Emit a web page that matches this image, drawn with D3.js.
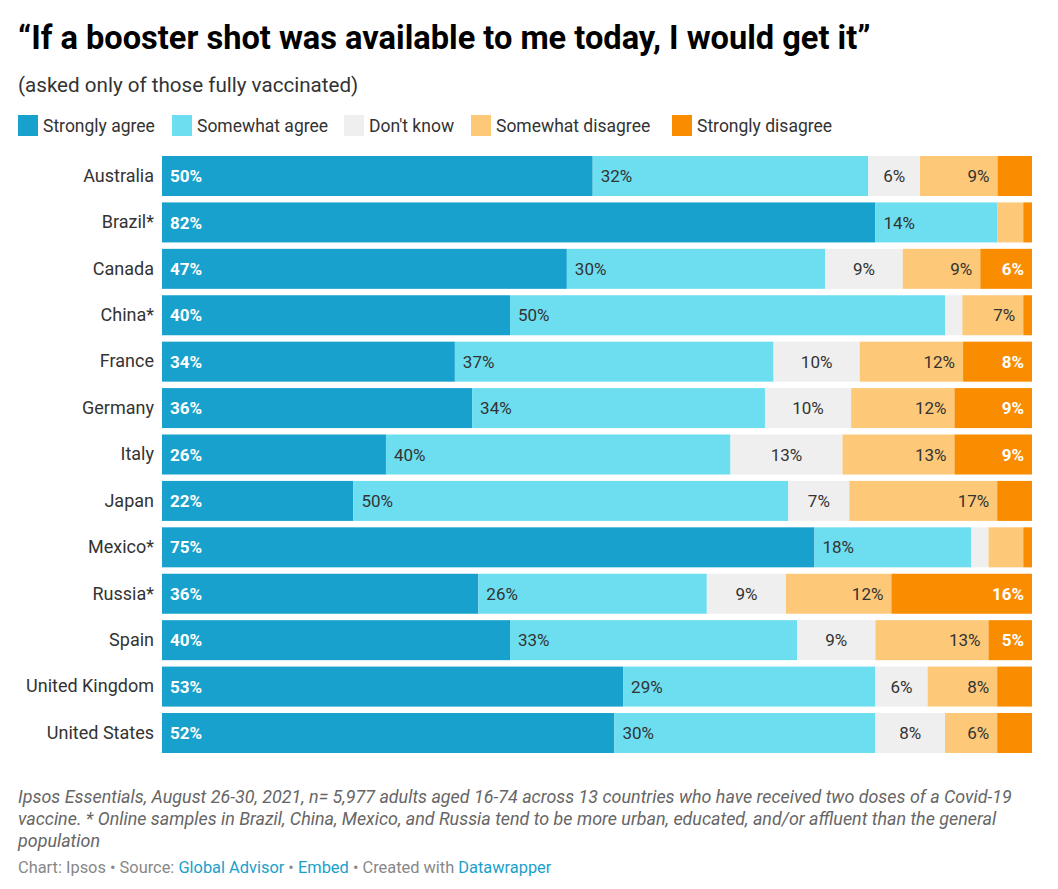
<!DOCTYPE html>
<html>
<head>
<meta charset="utf-8">
<script src="https://cdn.jsdelivr.net/npm/d3@7"></script>
<style>
  body { margin: 0; background: #fff; font-family: Roboto, "Noto Sans", sans-serif; }
  svg { display: block; }
</style>
</head>
<body>
<svg id="chart" width="1058" height="889"></svg>
<script>
const countries = ["Australia","Brazil*","Canada","China*","France","Germany","Italy","Japan","Mexico*","Russia*","Spain","United Kingdom","United States"];
const seriesNames = ["Strongly agree","Somewhat agree","Don't know","Somewhat disagree","Strongly disagree"];
const stronglyAgree    = [50,82,47,40,34,36,26,22,75,36,40,53,52];
const somewhatAgree    = [32,14,30,50,37,34,40,50,18,26,33,29,30];
const dontKnow         = [6,0,9,2,10,10,13,7,2,9,9,6,8];
const somewhatDisagree = [9,3,9,7,12,12,13,17,4,12,13,8,6];
const stronglyDisagree = [4,1,6,1,8,9,9,4,1,16,5,4,4];
const colors = ["#18a1cd","#6ddef0","#efefef","#fdc979","#fa8c00"];
const labelColors = ["#ffffff","#333333","#333333","#333333","#ffffff"];
const labelWeights = ["bold","normal","normal","normal","bold"];

const series = [stronglyAgree, somewhatAgree, dontKnow, somewhatDisagree, stronglyDisagree];
const svg = d3.select("#chart");
const font = "Roboto, 'Noto Sans', sans-serif";

// Title & subtitle
svg.append("text").attr("x", 18).attr("y", 49)
  .attr("font-family", font).attr("font-weight", "bold").attr("font-size", 32.6).attr("fill", "#000")
  .text("\u201CIf a booster shot was available to me today, I would get it\u201D");
svg.append("text").attr("x", 18).attr("y", 92)
  .attr("font-family", font).attr("font-size", 20.6).attr("fill", "#333")
  .text("(asked only of those fully vaccinated)");

// Legend
const legendX = [18, 172, 344, 471, 672];
const lg = svg.append("g");
seriesNames.forEach((name, i) => {
  const g = lg.append("g").attr("transform", `translate(${legendX[i]},115)`);
  g.append("rect").attr("width", 20).attr("height", 21).attr("fill", colors[i]);
  g.append("text").attr("x", 25).attr("y", 16.5)
    .attr("font-family", font).attr("font-size", 17.5).attr("fill", "#333").text(name);
});

// Data rows
const rows = countries.map((c, ci) => {
  const vals = series.map(s => s[ci]);
  const total = d3.sum(vals);
  let acc = 0;
  const segs = vals.map((v, si) => {
    const seg = { country: c, si, value: v, x0: acc / total, x1: (acc + v) / total };
    acc += v;
    return seg;
  });
  return { country: c, segs };
});

const x = d3.scaleLinear().domain([0, 1]).range([162, 1032]);
const y = d3.scaleBand().domain(countries).range([156, 753]).paddingInner(0.138).paddingOuter(0);

// Country axis labels
const yAxis = d3.axisLeft(y).tickSize(0).tickPadding(8);
const ya = svg.append("g").attr("transform", "translate(162,0)").call(yAxis);
ya.select(".domain").remove();
ya.selectAll("text").attr("font-family", font).attr("font-size", 18).attr("fill", "#333");

const rowG = svg.selectAll("g.row").data(rows).enter().append("g").attr("class", "row")
  .attr("transform", d => `translate(0,${y(d.country)})`);

rowG.selectAll("rect").data(d => d.segs.filter(s => s.value > 0)).enter().append("rect")
  .attr("x", d => x(d.x0)).attr("width", d => x(d.x1) - x(d.x0))
  .attr("y", 0).attr("height", y.bandwidth())
  .attr("fill", d => colors[d.si]);

rowG.selectAll("text.lbl").data(d => d.segs.filter(s => s.value >= 5)).enter().append("text")
  .attr("class", "lbl")
  .attr("x", d => d.si < 2 ? x(d.x0) + 8 : (d.si === 2 ? (x(d.x0) + x(d.x1)) / 2 : x(d.x1) - 8))
  .attr("text-anchor", d => d.si < 2 ? "start" : (d.si === 2 ? "middle" : "end"))
  .attr("y", y.bandwidth() / 2).attr("dy", "0.36em")
  .attr("font-family", font).attr("font-size", 17)
  .attr("font-weight", d => labelWeights[d.si])
  .attr("fill", d => labelColors[d.si])
  .text(d => d.value + "%");

// Notes
const notes = [
  "Ipsos Essentials, August 26-30, 2021, n= 5,977 adults aged 16-74 across 13 countries who have received two doses of a Covid-19",
  "vaccine. * Online samples in Brazil, China, Mexico, and Russia tend to be more urban, educated, and/or affluent than the general",
  "population"
];
notes.forEach((t, i) => {
  svg.append("text").attr("x", 18).attr("y", 803 + i * 22)
    .attr("font-family", font).attr("font-style", "italic").attr("font-size", 17.9).attr("fill", "#666").text(t);
});

const src = svg.append("text").attr("x", 18).attr("y", 873)
  .attr("font-family", font).attr("font-size", 16.4).attr("fill", "#888");
[["Chart: Ipsos \u2022 Source: ", "#888"], ["Global Advisor", "#1a9fcc"], [" \u2022 ", "#888"], ["Embed", "#1a9fcc"], [" \u2022 Created with ", "#888"], ["Datawrapper", "#1a9fcc"]]
  .forEach(([t, c]) => src.append("tspan").attr("fill", c).text(t));
</script>
</body>
</html>
